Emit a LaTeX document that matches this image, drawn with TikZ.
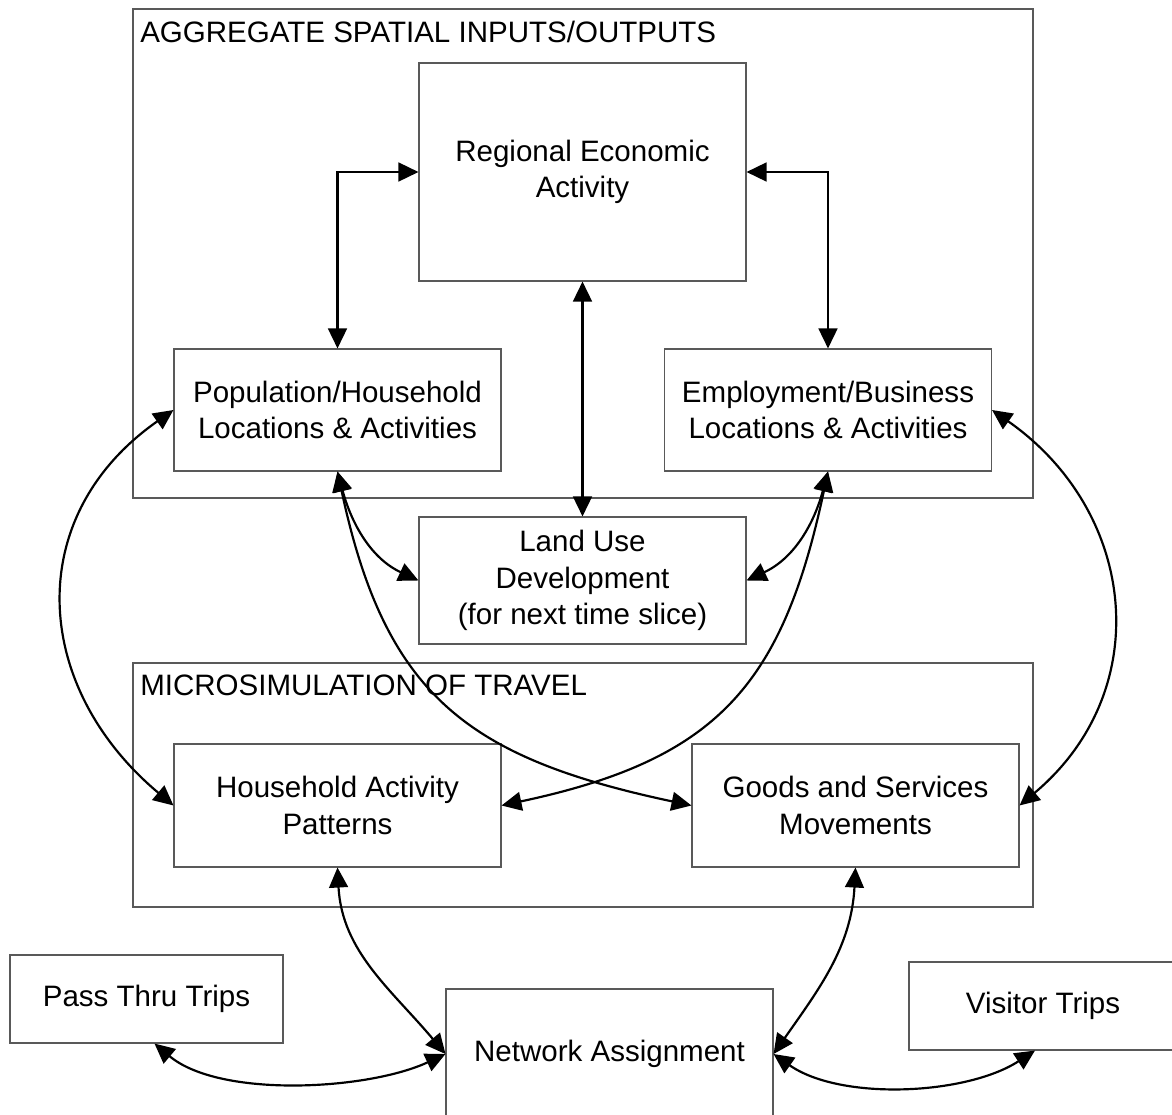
\documentclass[tikz,border=0pt]{standalone}
\usepackage{fontspec}
\setmainfont{Liberation Sans}
\usepackage{tikz}
\usetikzlibrary{arrows.meta}

\begin{document}
\begin{tikzpicture}[
		every node/.style={rectangle, align=center, inner sep=0pt, font=\fontsize{21}{26}\selectfont},
		box/.style={draw=black!65, line width=0.75pt, minimum width=8.175cm},
		frame/.style={draw=black!65, line width=0.75pt, minimum width=22.5cm},
		title/.style={anchor=base west},
		link/.style={<->, >={Triangle[length=0.5cm, width=0.47cm]}, line width=1.55pt}
	]
  \useasboundingbox (0cm, 0cm) rectangle (29.3cm, -27.85cm);
  \node (agg) [frame, minimum height=12.225cm] at (14.575cm, -6.3375cm) {};
  \node (agg_label) [title] at (3.5cm, -1.05cm) {AGGREGATE SPATIAL INPUTS/OUTPUTS};
  \node (micro) [frame, minimum height=6.1cm] at (14.575cm, -19.625cm) {};
  \node (micro_label) [title] at (3.5cm, -17.375cm) {MICROSIMULATION OF TRAVEL};
  \node (reg) [box, minimum height=5.45cm] at (14.5625cm, -4.3cm) {Regional Economic\\Activity};
  \node (pop) [box, minimum height=3.05cm] at (8.4375cm, -10.25cm) {Population/Household\\Locations \& Activities};
  \node (emp) [box, minimum height=3.05cm] at (20.7cm, -10.25cm) {Employment/Business\\Locations \& Activities};
  \node (land) [box, minimum height=3.175cm] at (14.5625cm, -14.5125cm) {Land Use\\Development\\(for next time slice)};
  \node (hh) [box, minimum height=3.075cm] at (8.4375cm, -20.1375cm) {Household Activity\\Patterns};
  \node (goods) [box, minimum height=3.075cm] at (21.3875cm, -20.1375cm) {Goods and Services\\Movements};
  \node (pass) [box, minimum width=6.825cm, minimum height=2.2cm] at (3.6625cm, -24.975cm) {Pass Thru Trips};
  \node (net) [box, minimum height=3.25cm] at (15.2375cm, -26.35cm) {Network Assignment};
  \node (visit) [box, minimum width=6.7cm, minimum height=2.2cm] at (26.075cm, -25.15cm) {Visitor Trips};
  \draw[link] (reg.west) -| (pop.north);
  \draw[link] (reg.east) -| (emp.north);
  \draw[link] (reg.south) -- (land.north);
  \draw[link] (pop.south) to[out=-75, in=155] (land.west);
  \draw[link] (emp.south) to[out=-105, in=25] (land.east);
  \draw[link] (pop.south) to[out=-78, in=168, looseness=1.2] (goods.west);
  \draw[link] (emp.south) to[out=-102, in=12, looseness=1.2] (hh.east);
  \draw[link] (pop.west) to[out=215, in=140, looseness=1.2] (hh.west);
  \draw[link] (emp.east) to[out=-35, in=40, looseness=1.15] (goods.east);
  \draw[link] (hh.south) to[out=-87, in=130] (net.west);
  \draw[link] (goods.south) to[out=-93, in=55] (net.east);
  \draw[link] ([xshift=0.2cm]pass.south) to[out=-40, in=205, looseness=0.75] (net.west);
  \draw[link] (net.east) to[out=-35, in=213, looseness=0.8] ([xshift=-0.2cm]visit.south);
\end{tikzpicture}
\end{document}
